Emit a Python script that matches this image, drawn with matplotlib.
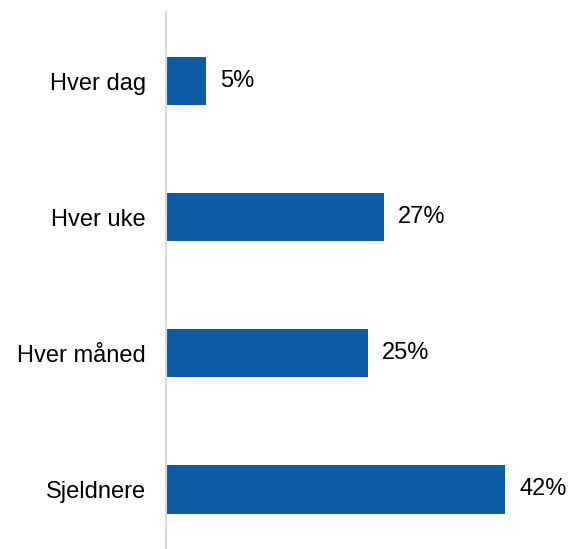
import matplotlib
matplotlib.use("Agg")
import matplotlib.pyplot as plt

categories = ["Hver dag", "Hver uke", "Hver måned", "Sjeldnere"]
values = [5, 27, 25, 42]
value_labels = ["5%", "27%", "25%", "42%"]

plt.rcParams['font.family'] = ['Liberation Sans', 'DejaVu Sans']

W, H = 572, 549
fig = plt.figure(figsize=(W / 100, H / 100), dpi=100)
ax_left, ax_right = 166, 560
ax_top, ax_bottom = 12, 548
ax = fig.add_axes([ax_left / W, 1 - ax_bottom / H, (ax_right - ax_left) / W, (ax_bottom - ax_top) / H])

pos = list(range(len(categories)))
ax.barh(pos, values, height=0.355, color="#0E5CA6", edgecolor="none")
ax.set_ylim(3.43, -0.507)
ax.set_xlim(0, (ax_right - ax_left) / 8.08)

for p, v, lab in zip(pos, values, value_labels):
    ax.annotate(lab, xy=(v, p), xytext=(14, 0), textcoords="offset pixels",
                va="center", ha="left", fontsize=17, color="#000000")

ax.set_yticks(pos)
ax.set_yticklabels(categories, fontsize=17)
ax.tick_params(axis="y", length=0, pad=14.5)
ax.set_xticks([])
for s in ["top", "right", "bottom"]:
    ax.spines[s].set_visible(False)
ax.spines["left"].set_color("#D9D9D9")
ax.spines["left"].set_linewidth(1.5)

fig.savefig("out.png", dpi=100)
